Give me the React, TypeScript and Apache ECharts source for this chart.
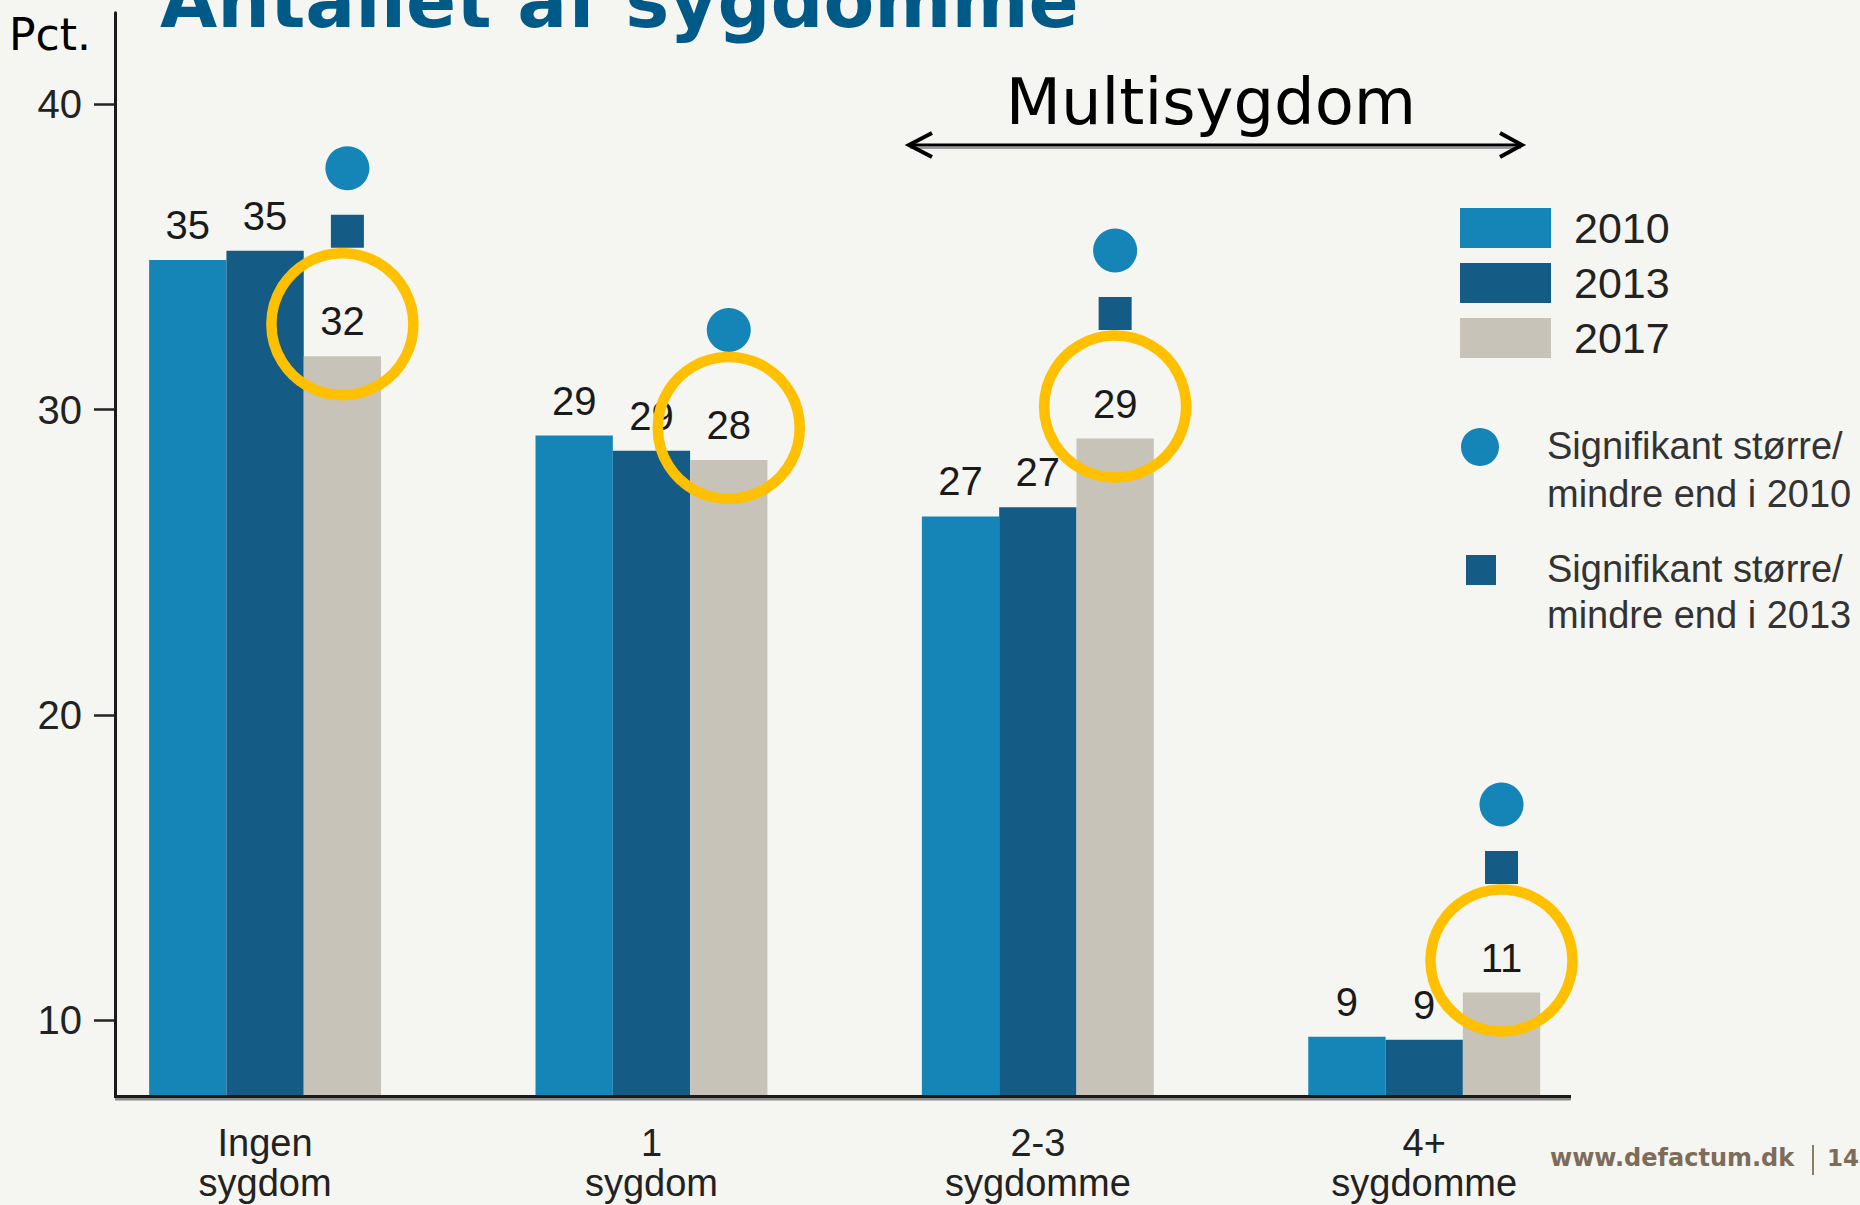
import React, { useEffect, useRef } from 'react';
import * as echarts from 'echarts';

// ---- data ----
const categories = ['Ingen\nsygdom', '1\nsygdom', '2-3\nsygdomme', '4+\nsygdomme'];
const years = ['2010', '2013', '2017'];
const values2010 = [34.9, 29.15, 26.5, 9.45];
const values2013 = [35.2, 28.65, 26.8, 9.35];
const values2017 = [31.75, 28.35, 29.05, 10.9];
const sigVs2010 = [true, true, true, true];
const sigVs2013 = [true, false, true, true];
const yTicks = [10, 20, 30, 40];
const sigLabels = ['Signifikant større/\nmindre end i 2010', 'Signifikant større/\nmindre end i 2013'];
const titleText = 'Antallet af sygdomme';
const unitText = 'Pct.';
const bracketText = 'Multisygdom';
const footerText = 'www.defactum.dk';
const pageNumber = '14';

// ---- style ----
const SANS = '"Liberation Sans", Arial, Helvetica, sans-serif';
const VERDANA = '"DejaVu Sans", Verdana, sans-serif';
const BG = '#F5F5F1';
const yearColors = ['#1585B7', '#145C86', '#C7C3B9'];
const yearValues = [values2010, values2013, values2017];
const BAR_W = 77.3;
const RING = '#FFC000';
const FOOT = '#7D6C5A';

export default function App() {
  const ref = useRef<HTMLDivElement>(null);

  useEffect(() => {
    document.body.style.margin = '0';
    document.body.style.background = BG;
    const chart = echarts.init(ref.current as HTMLDivElement, null, { renderer: 'svg' });

    const barSeries = years.map((y, i) => ({
      type: 'bar',
      name: y,
      data: yearValues[i],
      barWidth: BAR_W,
      barGap: '0%',
      itemStyle: { color: yearColors[i] },
      label: {
        show: true,
        position: 'top',
        distance: 15,
        formatter: (p: any) => String(Math.round(p.value)),
        fontSize: 40,
        color: '#1a1a1a',
        fontFamily: SANS,
      },
      z: 2,
    }));

    const sig2010Series = {
      type: 'scatter',
      name: sigLabels[0],
      symbol: 'circle',
      symbolSize: 44,
      itemStyle: { color: yearColors[0], opacity: 1 },
      data: values2017.map((v, i) =>
        sigVs2010[i] ? { value: v, symbolOffset: [BAR_W + (i === 0 ? 5 : 0), sigVs2013[i] ? -188 : -130] } : '-'
      ),
      z: 3,
      silent: true,
    };

    const sig2013Series = {
      type: 'scatter',
      name: sigLabels[1],
      symbol: 'rect',
      symbolSize: 33,
      itemStyle: { color: yearColors[1], opacity: 1 },
      data: values2017.map((v, i) =>
        sigVs2013[i] ? { value: v, symbolOffset: [BAR_W + (i === 0 ? 5 : 0), -125] } : '-'
      ),
      z: 3,
      silent: true,
    };

    const ringSeries = {
      type: 'scatter',
      name: 'highlight2017',
      symbol: 'circle',
      symbolSize: 142,
      symbolOffset: [BAR_W, -32],
      itemStyle: { color: 'rgba(0,0,0,0)', borderColor: RING, borderWidth: 10.5, opacity: 1 },
      data: values2017.slice(),
      z: 4,
      silent: true,
    };

    const option: any = {
      animation: false,
      backgroundColor: BG,
      grid: { left: 71.9, width: 1545.5, top: 12.8, height: 1083.5, containLabel: false },
      xAxis: {
        type: 'category',
        data: categories,
        axisLine: { show: false },
        axisTick: { show: false },
        axisLabel: { fontSize: 38, lineHeight: 40, margin: 27, color: '#222', fontFamily: SANS },
      },
      yAxis: {
        type: 'value',
        min: 7.5,
        max: 43,
        offset: -43.1,
        splitLine: { show: false },
        axisLine: { show: true, lineStyle: { color: '#1a1a1a', width: 3 } },
        axisTick: { show: true, length: 21, customValues: yTicks, lineStyle: { color: '#222', width: 2.5 } },
        axisLabel: { customValues: yTicks, fontSize: 40, margin: 33, color: '#222', fontFamily: SANS },
      },
      legend: {
        data: years,
        orient: 'vertical',
        left: 1460,
        top: 206.5,
        padding: 0,
        itemWidth: 91,
        itemHeight: 40,
        itemGap: 12,
        icon: 'rect',
        selectedMode: false,
        textStyle: { fontSize: 43, color: '#222', fontFamily: SANS, padding: [0, 0, 0, 18] },
      },
      series: [...barSeries, ringSeries, sig2010Series, sig2013Series],
      graphic: [
        // title (cropped at the top of the page, as in the slide)
        {
          type: 'text', x: 160, y: 1.2, z: 10,
          style: { text: titleText, font: `bold 74px ${VERDANA}`, fill: '#005A87', textVerticalAlign: 'middle' },
        },
        {
          type: 'text', x: 9, y: 34.8, z: 10,
          style: { text: unitText, font: `44px ${VERDANA}`, fill: '#000', textVerticalAlign: 'middle' },
        },
        {
          type: 'text', x: 1211, y: 101.9, z: 10,
          style: { text: bracketText, font: `64px ${VERDANA}`, fill: '#000', textAlign: 'center', textVerticalAlign: 'middle' },
        },
        // double arrow
        { type: 'line', z: 9, shape: { x1: 910, y1: 148, x2: 1521, y2: 148 }, style: { stroke: '#9a9a9a', lineWidth: 2 } },
        { type: 'line', z: 10, shape: { x1: 910, y1: 145, x2: 1521, y2: 145 }, style: { stroke: '#000', lineWidth: 3 } },
        { type: 'polyline', z: 10, shape: { points: [[932, 133], [909, 145], [932, 157]] }, style: { stroke: '#000', lineWidth: 4, fill: 'none' } },
        { type: 'polyline', z: 10, shape: { points: [[1500, 133], [1522, 145], [1500, 157]] }, style: { stroke: '#000', lineWidth: 4, fill: 'none' } },
        // x axis baseline
        { type: 'line', z: 9, shape: { x1: 115, y1: 1099.3, x2: 1571, y2: 1099.3 }, style: { stroke: '#8a8a8a', lineWidth: 2.5 } },
        { type: 'line', z: 10, shape: { x1: 114, y1: 1096.5, x2: 1571, y2: 1096.5 }, style: { stroke: '#1a1a1a', lineWidth: 3 } },
        // significance legend
        { type: 'circle', z: 10, shape: { cx: 1480, cy: 447, r: 19 }, style: { fill: yearColors[0] } },
        { type: 'rect', z: 10, shape: { x: 1466, y: 555, width: 30, height: 30 }, style: { fill: yearColors[1] } },
        {
          type: 'text', x: 1547, y: 421.5, z: 10,
          style: { text: sigLabels[0], font: `38px ${SANS}`, lineHeight: 48, fill: '#333', textVerticalAlign: 'top' },
        },
        {
          type: 'text', x: 1547, y: 545.5, z: 10,
          style: { text: sigLabels[1], font: `38px ${SANS}`, lineHeight: 46, fill: '#333', textVerticalAlign: 'top' },
        },
        // footer
        {
          type: 'text', x: 1550, y: 1158.4, z: 10,
          style: { text: footerText, font: `bold 24px ${VERDANA}`, fill: FOOT, textVerticalAlign: 'middle' },
        },
        { type: 'line', z: 10, shape: { x1: 1813, y1: 1145, x2: 1813, y2: 1175 }, style: { stroke: '#8C7C6A', lineWidth: 2 } },
        {
          type: 'text', x: 1827, y: 1158.4, z: 10,
          style: { text: pageNumber, font: `bold 23px ${VERDANA}`, fill: FOOT, textVerticalAlign: 'middle' },
        },
      ],
    };

    chart.setOption(option);
    return () => chart.dispose();
  }, []);

  return <div ref={ref} style={{ width: 1860, height: 1205, background: BG }} />;
}
